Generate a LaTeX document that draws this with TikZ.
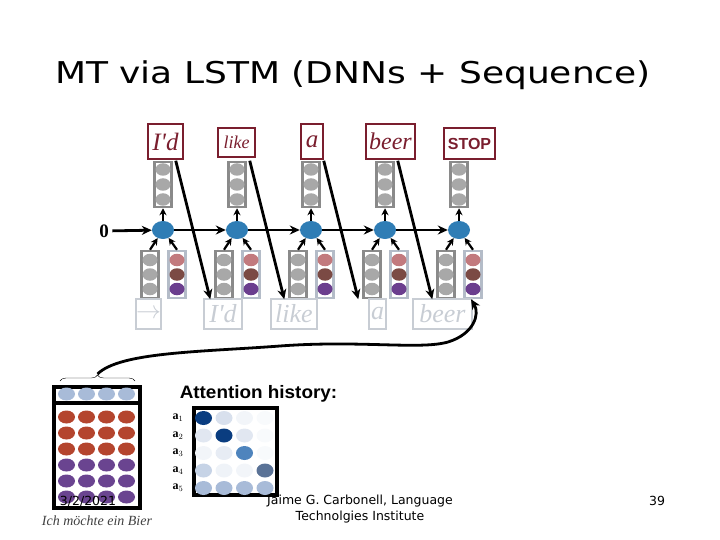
\documentclass[tikz,border=0pt]{standalone}
\usepackage{fontspec}
\setmainfont{Liberation Serif}
\newfontfamily\verd{DejaVu Sans}
\newfontfamily\arial{Liberation Sans}
\usepackage{tikz}
\usetikzlibrary{arrows.meta,positioning,calc,shapes.geometric,decorations.pathreplacing}
\definecolor{lstm}{HTML}{2F7DB5}
\definecolor{wred}{HTML}{7A1E2E}
\definecolor{stkgray}{HTML}{8A8A8A}
\definecolor{dotgray}{HTML}{A8A8A8}
\definecolor{stkblue}{HTML}{B4BCC8}
\definecolor{pinkc}{HTML}{C27A7E}
\definecolor{brownc}{HTML}{7B4A44}
\definecolor{purpc}{HTML}{6B3E8E}
\definecolor{ghost}{HTML}{C8CDD4}
\definecolor{srcred}{HTML}{B4452E}
\definecolor{srcpurp}{HTML}{6A4490}
\definecolor{pale}{HTML}{A8BBD8}
\definecolor{deep}{HTML}{0A3D80}
\definecolor{mid}{HTML}{4E84BD}
\definecolor{slate}{HTML}{5A7296}
\tikzset{
  arr/.style={-{Stealth[length=10pt,width=9pt]},line width=2.8pt},
  sarr/.style={-{Stealth[length=7pt,width=7pt]},line width=2.2pt},
  hid/.style={ellipse,fill=lstm,minimum width=22pt,minimum height=18pt,inner sep=0pt},
  stk/.style={draw=stkgray,line width=2.5pt,fill=white,minimum width=17pt,minimum height=45pt,inner sep=0pt},
  cstk/.style={stk,draw=stkblue},
  pip/.style={ellipse,minimum width=15pt,minimum height=12.5pt,inner sep=0pt},
  wbox/.style={draw=wred,line width=2.5pt,fill=white,text=wred,inner sep=0pt,font=\fontsize{25}{25}\selectfont\itshape},
  gbox/.style={draw=ghost,line width=2pt,text=ghost,inner sep=0pt,minimum height=30pt,font=\fontsize{26}{26}\selectfont\itshape},
  mbox/.style={draw=black,line width=4pt,inner sep=0pt},
  foot/.style={font=\verd\fontsize{12.5}{16}\selectfont,align=center},
}
\begin{document}
\begin{tikzpicture}[x=1pt,y=-1pt]
\useasboundingbox (0,0) rectangle (720,540);
\node[font=\verd\fontsize{30}{34}\selectfont,xscale=1.2,transform shape] (title) at (353,75) {MT via LSTM (DNNs + Sequence)};

\node[wbox,minimum width=35,minimum height=35] (w1) at (165.5,141.5) {I\textquotesingle d};
\node[wbox,minimum width=37,minimum height=29,font=\fontsize{18}{18}\selectfont\itshape] (w2) at (236.5,142.5) {like};
\node[wbox,minimum width=22,minimum height=35] (w3) at (312,141.5) {a};
\node[wbox,minimum width=49,minimum height=35,font=\fontsize{24}{24}\selectfont\itshape] (w4) at (390.5,141.5) {beer};
\node[wbox,minimum width=51,minimum height=31,font=\arial\bfseries\fontsize{16}{16}\selectfont] (w5) at (469.5,143.5) {STOP};

\node[font=\bfseries\fontsize{19}{19}\selectfont] (zero) at (104,231) {0};

\foreach \i/\x in {1/163,2/237,3/311,4/385,5/459}{
  \node[hid] (h\i) at (\x,230) {};
  \node[stk] (up\i) at (\x,184.5) {};
  \node[stk,minimum height=47pt] (g\i) at ({\x-13},274.5) {};
  \node[cstk,minimum height=47pt] (c\i) at ({\x+14},274.5) {};
  \foreach \d in {-15,0,15}
    \node[pip,fill=dotgray] at ([yshift=\d pt]up\i.center) {};
  \foreach \d in {-14.5,0,14.5}
    \node[pip,fill=dotgray] at ([yshift=\d pt]g\i.center) {};
  \foreach \d/\cl in {14.5/pinkc,0/brownc,-14.5/purpc}
    \node[pip,fill=\cl] at ([yshift=\d pt]c\i.center) {};
  \draw[sarr] (h\i) -- (up\i);
  \draw[sarr] (g\i.north) -- (h\i);
  \draw[sarr] (c\i.north) -- (h\i);
}

\node[gbox,minimum width=17] (b1) at (148.5,314) {$\rightarrow$};
\node[gbox,minimum width=38] (b2) at (223,314) {I\textquotesingle d};
\node[gbox,minimum width=46] (b3) at (294,314) {like};
\node[gbox,minimum width=17] (b4) at (377.5,314) {a};
\node[gbox,minimum width=59] (b5) at (442.5,314) {beer};

\draw[arr] (zero) -- (h1);
\foreach \i/\j in {1/2,2/3,3/4,4/5}{
  \draw[arr] (h\i) -- (h\j);
  \draw[arr] ([xshift=3pt]up\i.north east) -- ([xshift=-4pt]g\j.south west);
}

\node[mbox,minimum width=86,minimum height=16] (ctx) at (97,395) {};
\node[mbox,minimum width=86,minimum height=105] (enc) at (97,455.5) {};
\foreach \c in {1,...,4}{
  \node[pip,fill=pale,minimum width=17pt,minimum height=13pt] at ({46.5+20*\c},394) {};
  \foreach \r/\cl in {1/srcred,2/srcred,3/srcred,4/srcpurp,5/srcpurp,6/srcpurp}
    \node[pip,fill=\cl,minimum width=17pt,minimum height=13pt] at ({46.5+20*\c},{401+16*\r}) {};
}
\draw[decorate,decoration={brace,amplitude=6pt}] (60,381) -- (135,381);
\coordinate (tip) at (97.5,374);
\draw[arr] (tip) .. controls (120,352) and (200,352) .. (280,346)
  .. controls (360,340) and (420,350) .. (448,342)
  .. controls (474,334) and (480,314) .. ([xshift=-2pt]c5.south);
\node[font=\fontsize{14}{14}\selectfont\itshape,text=black!75] (src) at (97,521) {Ich möchte ein Bier};

\node[font=\arial\bfseries\fontsize{18}{18}\selectfont,xscale=1.05,transform shape] (hist) at (258.5,394) {Attention history:};
\node[mbox,minimum width=83,minimum height=87] (att) at (235.5,451.5) {};
\foreach \r/\row in {1/{deep,pale!45!white,pale!15!white,pale!8!white},
                     2/{pale!35!white,deep,pale!35!white,pale!8!white},
                     3/{pale!15!white,pale!28!white,mid,pale!8!white},
                     4/{pale!65!white,pale!18!white,pale!15!white,slate},
                     5/{pale,pale,pale,pale}}{
  \node[font=\fontsize{12}{12}\selectfont] (a\r) at (178,{400.5+17.5*\r}) {$\mathbf{a}_{\r}$};
  \foreach \cl [count=\c] in \row
    \node[pip,fill=\cl,minimum width=17pt,minimum height=14pt] at ({183+20.5*\c},{400.5+17.5*\r}) {};
}

\node[foot] (date) at (88,501) {3/2/2021};
\node[foot] (auth) at (360,509) {Jaime G. Carbonell, Language\\Technolgies Institute};
\node[foot] (page) at (657,501) {39};
\end{tikzpicture}
\end{document}
